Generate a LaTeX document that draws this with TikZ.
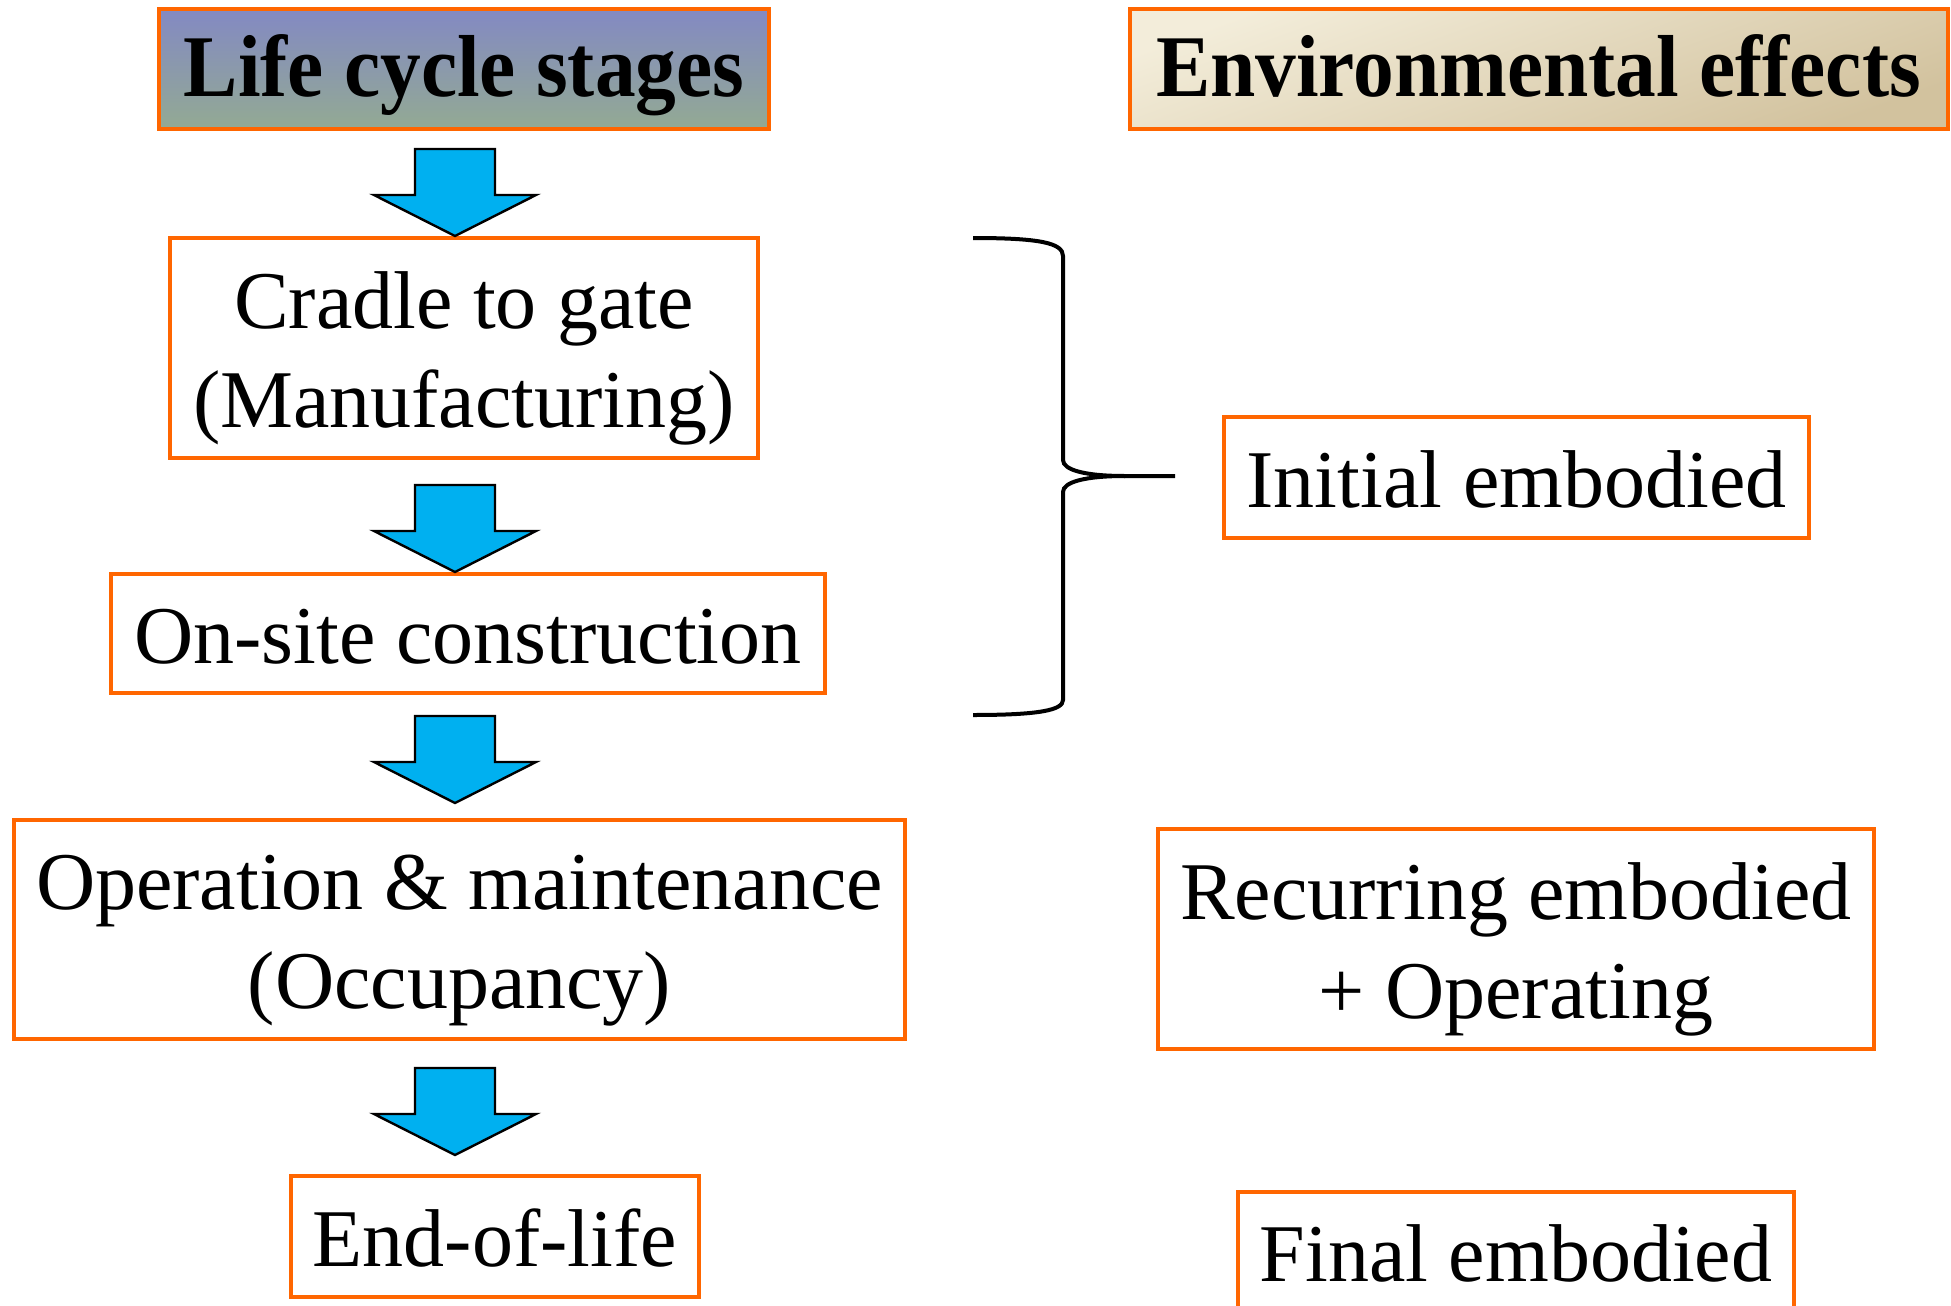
\documentclass[tikz,border=0pt]{standalone}
\usepackage{fontspec}
\setmainfont{Liberation Serif}
\newfontfamily\hdrfont[FakeStretch=0.925]{Liberation Serif Bold}
\usepackage{tikz}
\definecolor{boxorange}{RGB}{255,102,0}
\definecolor{arrowcyan}{RGB}{0,176,240}
\definecolor{hdrblue}{RGB}{131,137,195}
\definecolor{hdrgreen}{RGB}{147,170,147}
\definecolor{hdrcream}{RGB}{243,237,218}
\definecolor{hdrtan}{RGB}{210,194,158}
% taller first line, so two-line texts sit a bit lower in their boxes
\newcommand{\firststrut}{\rule{0pt}{38.5pt}}

\tikzset{
  stagebox/.style={draw=boxorange, line width=2pt, fill=white, align=center,
    inner sep=0pt, font=\fontsize{41}{49.5}\selectfont},
  oneline/.style={stagebox, text height=36pt, text depth=6.5pt},
  hdrbox/.style={stagebox, text height=34pt, text depth=7pt,
    font=\hdrfont\fontsize{44}{50}\selectfont},
  blockarrow/.pic={
    \draw[fill=arrowcyan, line width=1.2pt, line join=miter]
      (-40,-87) -- (40,-87) -- (40,-41) -- (81,-41) -- (0,0)
      -- (-81,-41) -- (-40,-41) -- cycle;
  }
}

\begin{document}
\begin{tikzpicture}[x=0.5pt, y=-0.5pt]
\clip (0,0) rectangle (1951,1306);
\fill[white] (0,0) rectangle (1951,1306);
% Headers
\node[hdrbox, top color=hdrblue, bottom color=hdrgreen,
  minimum width=305pt, minimum height=60pt] (hdrstages) at (464,69) {Life cycle stages};
\node[hdrbox, top color=hdrcream, bottom color=hdrtan, shading angle=20,
  minimum width=409pt, minimum height=60pt] (hdreffects) at (1538.5,69) {Environmental effects};
% Life cycle stages
\node[stagebox, minimum width=294pt, minimum height=110pt] (cradle) at (464,348) {\firststrut Cradle to gate\\(Manufacturing)};
\node[oneline, minimum width=357pt, minimum height=59.5pt] (onsite) at (468,633.5) {On-site construction};
\node[stagebox, minimum width=445.5pt, minimum height=109.5pt] (operation) at (459.5,929.5) {\firststrut Operation \& maintenance\\(Occupancy)};
\node[oneline, minimum width=204pt, minimum height=60.5pt] (endoflife) at (495,1236.5) {End-of-life};
% Block arrows between the stages
\pic at (455,236) {blockarrow};
\pic at (455,572) {blockarrow};
\pic at (455,803) {blockarrow};
\pic at (455,1155) {blockarrow};
% Environmental effects
\node[oneline, minimum width=292.5pt, minimum height=60.5pt] (initial) at (1516.5,477.5) {Initial embodied};
\node[stagebox, minimum width=358pt, minimum height=110pt] (recurring) at (1516,939) {\firststrut Recurring embodied\\+ Operating};
\node[oneline, minimum width=278pt, minimum height=60.5pt] (final) at (1516,1252) {Final embodied};
% Brace over cradle to gate and on-site construction
\draw[line width=2pt] (973,238) .. controls (1040,238) and (1063,243) .. (1063,256)
  -- (1063,460) .. controls (1063,470) and (1085,476) .. (1125,476) -- (1175,476);
\draw[line width=2pt] (1125,476) .. controls (1085,476) and (1063,482) .. (1063,492)
  -- (1063,700) .. controls (1063,710) and (1040,715) .. (973,715);
\end{tikzpicture}
\end{document}
